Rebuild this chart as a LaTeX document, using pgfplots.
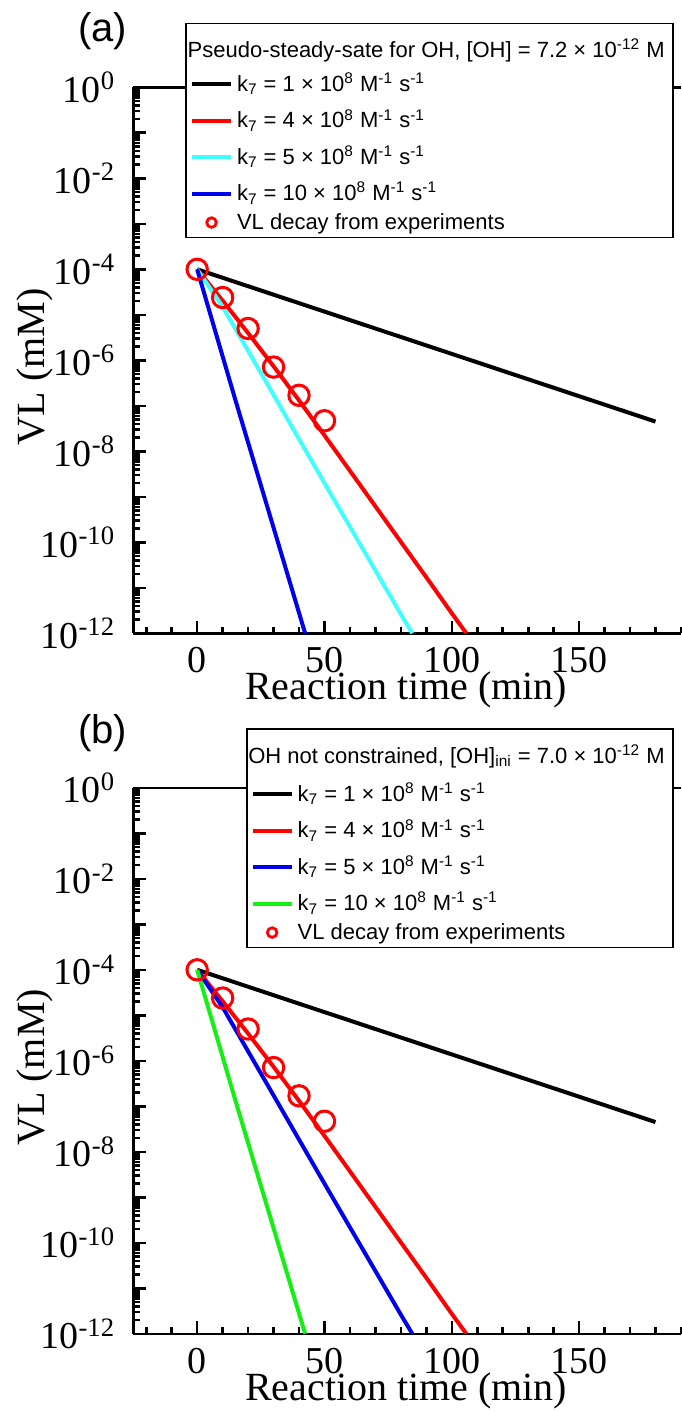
\documentclass[border=0pt]{standalone}
\usepackage{fontspec}
\setmainfont{Liberation Serif}
\setsansfont{Liberation Sans}
\usepackage{pgfplots}
\usepackage{pgfplotstable}
\pgfplotsset{compat=1.18}

\definecolor{lcyan}{RGB}{64,255,255}
\definecolor{lblue}{RGB}{0,0,235}
\definecolor{lgreen}{RGB}{20,240,20}

% VL (mM) vs time (min), same in both panels
\pgfplotstableread{
t v
0 1e-4
180 4.5e-8
}\kone
\pgfplotstableread{
t v
0 1e-4
10 2.04e-5
20 3.98e-6
30 7.41e-7
40 1.32e-7
50 2.24e-8
60 3.72e-9
70 6.17e-10
80 1.02e-10
90 1.70e-11
100 2.75e-12
105.7 1e-12
}\kfour
\pgfplotstableread{
t v
0 1e-4
10 1.51e-5
20 1.62e-6
30 1.74e-7
40 1.86e-8
50 2.0e-9
60 2.19e-10
70 2.40e-11
80 2.63e-12
84.5 1e-12
}\kfive
\pgfplotstableread{
t v
0 1e-4
15 1.35e-7
42.4 1e-12
}\kten
\pgfplotstableread{
t v
0 1e-4
10 2.4e-5
20 5.0e-6
30 7.1e-7
40 1.7e-7
50 4.7e-8
}\expt

\pgfplotsset{
  every axis plot/.append style={line width=2pt},
  legend image code/.code={\draw[mark repeat=2,mark phase=2,#1]
    plot coordinates {(0pt,0pt)(9.75pt,0pt)(19.5pt,0pt)};},
  small circle legend/.style={
    legend image code/.code={\draw[mark repeat=2,mark phase=2,##1,mark size=2.4pt,line width=1.4pt]
      plot coordinates {(0pt,0pt)(9.75pt,0pt)(19.5pt,0pt)};}},
}

\begin{document}
\begin{tikzpicture}
\useasboundingbox (-66.75pt,-389.35pt) rectangle (273.75pt,316.65pt);

\begin{axis}[at={(0pt,0pt)}, title={(a)},
    scale only axis, width=273.75pt, height=273pt,
    ymode=log, xmin=-25, xmax=190, ymin=1e-12, ymax=1,
    axis x line*=box, axis y line*=left,
    axis line style={line width=1.3pt},
    xtick={0,50,100,150}, xticklabels={0,50,100,150},
    minor xtick={-20,-10,...,190},
    xtick pos=left, ytick pos=left,
    tick align=inside,
    major tick length=6.3pt, minor tick length=3.3pt,
    tick style={line width=1.3pt, black},
    ytick={1e-12,1e-11,1e-10,1e-9,1e-8,1e-7,1e-6,1e-5,1e-4,1e-3,1e-2,1e-1,1},
    yticklabels={10\textsuperscript{-12},,10\textsuperscript{-10},,10\textsuperscript{-8},,10\textsuperscript{-6},,10\textsuperscript{-4},,10\textsuperscript{-2},,10\textsuperscript{0}},
    tick label style={font=\fontsize{19}{22}\selectfont},
    yticklabel style={inner sep=0pt, xshift=-9pt},
    xticklabel style={inner sep=0pt, yshift=-7pt},
    label style={font=\fontsize{20}{24}\selectfont},
    xlabel={Reaction time (min)},
    ylabel={VL (mM)},
    xlabel style={at={(axis description cs:0.498,-0.104)}, anchor=center},
    ylabel style={at={(axis description cs:-0.18,0.488)}, anchor=center},
    every axis title shift=0pt,
    title style={at={(axis description cs:-0.056,1.103)}, anchor=center,
      font=\sffamily\fontsize{20}{24}\selectfont},
    legend cell align=left,
    legend style={at={(axis description cs:1,1)}, anchor=north east,
      xshift=-3.75pt, yshift=32.3pt, draw=black, line width=0.85pt, fill=white,
      font=\sffamily\fontsize{11}{13}\selectfont,
      inner xsep=2pt, inner ysep=2pt, row sep=0pt,
      nodes={inner sep=2pt, text height=10.8pt, text depth=3.43pt}}]
\addlegendimage{empty legend}
\addlegendentry[text height=13pt, text depth=2.18pt]{\hspace*{-24.65pt}Pseudo-steady-sate for OH, [OH] = 7.2 × 10\textsuperscript{-12} M}
\addplot[black] table {\kone};
\addlegendentry{k\textsubscript{7} = 1 × 10\textsuperscript{8} M\textsuperscript{-1} s\textsuperscript{-1}}
\addplot[red] table {\kfour};
\addlegendentry{k\textsubscript{7} = 4 × 10\textsuperscript{8} M\textsuperscript{-1} s\textsuperscript{-1}}
\addplot[lcyan] table {\kfive};
\addlegendentry{k\textsubscript{7} = 5 × 10\textsuperscript{8} M\textsuperscript{-1} s\textsuperscript{-1}}
\addplot[lblue] table {\kten};
\addlegendentry{k\textsubscript{7} = 10 × 10\textsuperscript{8} M\textsuperscript{-1} s\textsuperscript{-1}}
\addplot[red, only marks, mark=o, mark size=5.1pt, line width=1.5pt, small circle legend] table {\expt};
\addlegendentry[text height=6.7pt, text depth=0.1pt]{VL decay from experiments}
\end{axis}

\begin{axis}[at={(0pt,-350.25pt)}, title={(b)},
    scale only axis, width=273.75pt, height=273pt,
    ymode=log, xmin=-25, xmax=190, ymin=1e-12, ymax=1,
    axis x line*=box, axis y line*=left,
    axis line style={line width=1.3pt},
    xtick={0,50,100,150}, xticklabels={0,50,100,150},
    minor xtick={-20,-10,...,190},
    xtick pos=left, ytick pos=left,
    tick align=inside,
    major tick length=6.3pt, minor tick length=3.3pt,
    tick style={line width=1.3pt, black},
    ytick={1e-12,1e-11,1e-10,1e-9,1e-8,1e-7,1e-6,1e-5,1e-4,1e-3,1e-2,1e-1,1},
    yticklabels={10\textsuperscript{-12},,10\textsuperscript{-10},,10\textsuperscript{-8},,10\textsuperscript{-6},,10\textsuperscript{-4},,10\textsuperscript{-2},,10\textsuperscript{0}},
    tick label style={font=\fontsize{19}{22}\selectfont},
    yticklabel style={inner sep=0pt, xshift=-9pt},
    xticklabel style={inner sep=0pt, yshift=-7pt},
    label style={font=\fontsize{20}{24}\selectfont},
    xlabel={Reaction time (min)},
    ylabel={VL (mM)},
    xlabel style={at={(axis description cs:0.498,-0.104)}, anchor=center},
    ylabel style={at={(axis description cs:-0.18,0.488)}, anchor=center},
    every axis title shift=0pt,
    title style={at={(axis description cs:-0.056,1.101)}, anchor=center,
      font=\sffamily\fontsize{20}{24}\selectfont},
    legend cell align=left,
    legend style={at={(axis description cs:1,1)}, anchor=north east,
      xshift=-3.75pt, yshift=29.75pt, draw=black, line width=0.85pt, fill=white,
      font=\sffamily\fontsize{11}{13}\selectfont,
      inner xsep=2pt, inner ysep=2pt, row sep=0pt,
      nodes={inner sep=2pt, text height=10.8pt, text depth=3.43pt}}]
\addlegendimage{empty legend}
\addlegendentry[text height=13pt, text depth=4.38pt]{\hspace*{-24.65pt}OH not constrained, [OH]\textsubscript{ini} = 7.0 × 10\textsuperscript{-12} M}
\addplot[black] table {\kone};
\addlegendentry{k\textsubscript{7} = 1 × 10\textsuperscript{8} M\textsuperscript{-1} s\textsuperscript{-1}}
\addplot[red] table {\kfour};
\addlegendentry{k\textsubscript{7} = 4 × 10\textsuperscript{8} M\textsuperscript{-1} s\textsuperscript{-1}}
\addplot[lblue] table {\kfive};
\addlegendentry{k\textsubscript{7} = 5 × 10\textsuperscript{8} M\textsuperscript{-1} s\textsuperscript{-1}}
\addplot[lgreen] table {\kten};
\addlegendentry{k\textsubscript{7} = 10 × 10\textsuperscript{8} M\textsuperscript{-1} s\textsuperscript{-1}}
\addplot[red, only marks, mark=o, mark size=5.1pt, line width=1.5pt, small circle legend] table {\expt};
\addlegendentry[text height=6.7pt, text depth=0.1pt]{VL decay from experiments}
\end{axis}
\end{tikzpicture}
\end{document}
